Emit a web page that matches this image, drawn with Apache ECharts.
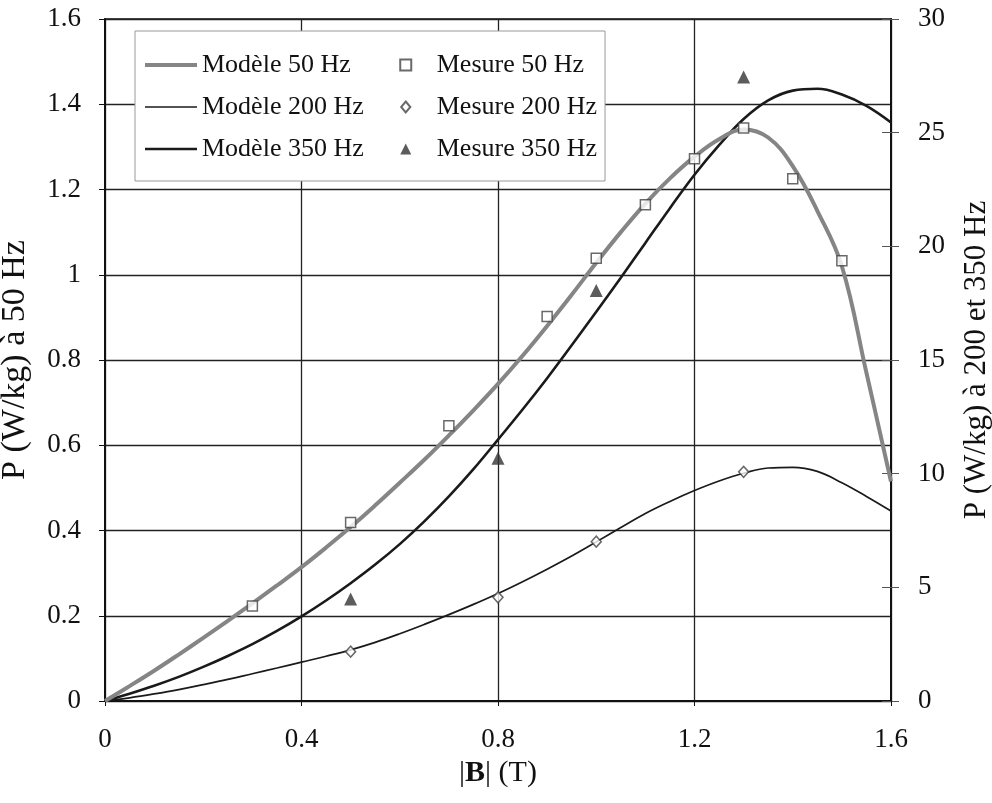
<!DOCTYPE html>
<html>
<head>
<meta charset="utf-8">
<script src="https://cdn.jsdelivr.net/npm/echarts@6/dist/echarts.min.js"></script>
<style>
html,body{margin:0;padding:0;background:#fff;}
#c{width:992px;height:803px;}
</style>
</head>
<body>
<div id="c"></div>
<script>
// ---- data ----
const xModel   = [0, 0.05, 0.1, 0.15, 0.2, 0.25, 0.3, 0.35, 0.4, 0.45, 0.5, 0.55, 0.6, 0.65, 0.7, 0.75, 0.8,
                  0.85, 0.9, 0.95, 1.0, 1.05, 1.1, 1.15, 1.2, 1.25, 1.3, 1.35, 1.4, 1.45, 1.5, 1.55, 1.6];
const model50  = [0, 0.035, 0.071, 0.109, 0.148, 0.188, 0.229, 0.271, 0.314, 0.36, 0.408, 0.459, 0.512, 0.566, 0.623, 0.682, 0.744,
                  0.81, 0.88, 0.953, 1.028, 1.1, 1.167, 1.226, 1.277, 1.318, 1.341, 1.322, 1.255, 1.15, 1.02, 0.77, 0.515];
const model200 = [0, 0.14, 0.31, 0.5, 0.72, 0.95, 1.2, 1.45, 1.71, 1.97, 2.25, 2.58, 2.96, 3.37, 3.8, 4.25, 4.73,
                  5.25, 5.8, 6.38, 7.0, 7.63, 8.25, 8.78, 9.26, 9.68, 10.02, 10.25, 10.28, 10.1, 9.6, 9.0, 8.36];
const model350 = [0, 0.32, 0.67, 1.06, 1.5, 1.98, 2.5, 3.08, 3.72, 4.42, 5.18, 6.0, 6.9, 7.9, 9.0, 10.2, 11.5,
                  12.82, 14.2, 15.65, 17.12, 18.62, 20.15, 21.68, 23.15, 24.45, 25.6, 26.42, 26.85, 26.93, 26.68, 26.18, 25.45];

const xMes50  = [0.3, 0.5, 0.7, 0.9, 1.0, 1.1, 1.2, 1.3, 1.4, 1.5];
const mes50   = [0.223, 0.419, 0.646, 0.902, 1.039, 1.164, 1.272, 1.344, 1.225, 1.033];
const xMes200 = [0.5, 0.8, 1.0, 1.3];
const mes200  = [2.17, 4.56, 7.01, 10.08];
const xMes350 = [0.5, 0.8, 1.0, 1.3];
const mes350  = [4.49, 10.68, 18.06, 27.45];

const legendNames = ['Modèle 50 Hz', 'Modèle 200 Hz', 'Modèle 350 Hz', 'Mesure 50 Hz', 'Mesure 200 Hz', 'Mesure 350 Hz'];
const xAxisName = '|{b|B}| (T)';
const yLeftName = 'P (W/kg) à 50 Hz';
const yRightName = 'P (W/kg) à 200 et 350 Hz';

const zip = (xs, ys) => xs.map((x, i) => [x, ys[i]]);
const FONT = 'Liberation Serif';

const chart = echarts.init(document.getElementById('c'), null, {renderer: 'canvas'});
const fmt1 = v => String(Math.round(v * 10) / 10);

const legendIcons = {
  'Modèle 50 Hz':  {icon: 'path://M0,0L52,0L52,4L0,4Z', itemStyle: {color: '#858585', borderWidth: 0}},
  'Modèle 200 Hz': {icon: 'path://M0,0L52,0L52,1.7L0,1.7Z', itemStyle: {color: '#1a1a1a', borderWidth: 0}},
  'Modèle 350 Hz': {icon: 'path://M0,0L52,0L52,2.6L0,2.6Z', itemStyle: {color: '#1a1a1a', borderWidth: 0}},
  'Mesure 50 Hz':  {icon: 'path://M0,0L10,0L10,10L0,10Z'},
  'Mesure 200 Hz': {icon: 'path://M5,0L10,6L5,12L0,6Z'},
  'Mesure 350 Hz': {icon: 'path://M5,0L10,10L0,10Z'}
};

const gridBox = {left: 105, right: 101, top: 19, bottom: 102, outerBoundsMode: 'none', containLabel: false};

chart.setOption({
  backgroundColor: '#fff',
  animation: false,
  textStyle: {fontFamily: FONT, color: '#111'},
  grid: [
    Object.assign({show: true, borderColor: '#111', borderWidth: 1.5, backgroundColor: 'transparent'}, gridBox),
    Object.assign({show: false}, gridBox)
  ],
  legend: {
    data: legendNames.map(n => Object.assign({name: n}, legendIcons[n])),
    orient: 'vertical',
    left: 135, top: 31,
    height: 112,
    padding: [21, 8, 19, 10],
    itemGap: 16,
    itemWidth: 52, itemHeight: 11,
    symbolKeepAspect: true,
    backgroundColor: '#fff',
    borderColor: '#999', borderWidth: 1,
    textStyle: {fontFamily: FONT, fontSize: 26, color: '#111'},
    z: 10
  },
  xAxis: [
    {
      type: 'value', min: 0, max: 1.6, interval: 0.4, gridIndex: 0,
      name: xAxisName, nameLocation: 'middle', nameGap: 56,
      nameTextStyle: {fontFamily: FONT, fontSize: 30, color: '#111', rich: {b: {fontFamily: FONT, fontSize: 30, fontWeight: 'bold', color: '#111'}}},
      axisLine: {onZero: false, lineStyle: {color: '#111', width: 2}},
      axisTick: {show: true, length: 5, lineStyle: {color: '#111'}},
      axisLabel: {fontFamily: FONT, fontSize: 27, color: '#111', margin: 25, formatter: fmt1},
      splitLine: {show: true, lineStyle: {color: '#222', width: 1.3}}
    },
    {
      type: 'value', min: 0, max: 1.6, interval: 0.4, gridIndex: 1, show: false,
      axisLine: {onZero: false}
    }
  ],
  yAxis: [
    {
      type: 'value', min: 0, max: 1.6, interval: 0.2, position: 'left', gridIndex: 0,
      name: yLeftName, nameLocation: 'middle', nameGap: 73, nameRotate: 90,
      nameTextStyle: {fontFamily: FONT, fontSize: 34, color: '#111'},
      axisLine: {show: true, onZero: false, lineStyle: {color: '#111', width: 2}},
      axisTick: {show: true, length: 6, lineStyle: {color: '#111'}},
      axisLabel: {fontFamily: FONT, fontSize: 27, color: '#111', margin: 24, formatter: fmt1},
      splitLine: {show: true, lineStyle: {color: '#222', width: 1.3}}
    },
    {
      type: 'value', min: 0, max: 30, interval: 5, position: 'right', gridIndex: 0,
      name: yRightName, nameLocation: 'middle', nameGap: 70, nameRotate: 90,
      nameTextStyle: {fontFamily: FONT, fontSize: 31, color: '#111'},
      axisLine: {show: true, onZero: false, lineStyle: {color: '#111', width: 2}},
      axisTick: {show: true, length: 8, lineStyle: {color: '#555'}},
      axisLabel: {fontFamily: FONT, fontSize: 27, color: '#111', margin: 27},
      splitLine: {show: false}
    },
    {
      type: 'value', min: 0, max: 30, interval: 5, position: 'right', gridIndex: 1,
      axisLine: {show: true, onZero: false, lineStyle: {color: 'rgba(0,0,0,0)', width: 0}},
      axisTick: {show: true, inside: true, length: 9, lineStyle: {color: '#555'}},
      axisLabel: {show: false},
      splitLine: {show: false}
    }
  ],
  series: [
    {
      name: 'Modèle 200 Hz', type: 'line', yAxisIndex: 1, symbol: 'none', smooth: 0.4,
      lineStyle: {color: '#1a1a1a', width: 1.7}, itemStyle: {color: '#1a1a1a'},
      data: zip(xModel, model200), z: 3
    },
    {
      name: 'Modèle 350 Hz', type: 'line', yAxisIndex: 1, symbol: 'none', smooth: 0.4,
      lineStyle: {color: '#1a1a1a', width: 2.6}, itemStyle: {color: '#1a1a1a'},
      data: zip(xModel, model350), z: 3
    },
    {
      name: 'Modèle 50 Hz', type: 'line', yAxisIndex: 0, symbol: 'none', smooth: 0.4,
      lineStyle: {color: '#858585', width: 4}, itemStyle: {color: '#858585'},
      data: zip(xModel, model50), z: 4
    },
    {
      name: 'Mesure 50 Hz', type: 'scatter', yAxisIndex: 0, symbol: 'rect', symbolSize: 10,
      itemStyle: {color: '#fff', borderColor: '#444', borderWidth: 1.5},
      data: zip(xMes50, mes50), z: 5
    },
    {
      name: 'Mesure 200 Hz', type: 'scatter', yAxisIndex: 1, symbol: 'diamond', symbolSize: [10, 11],
      itemStyle: {color: '#fff', borderColor: '#444', borderWidth: 1.5},
      data: zip(xMes200, mes200), z: 5
    },
    {
      name: 'Mesure 350 Hz', type: 'scatter', yAxisIndex: 1, symbol: 'triangle', symbolSize: 13,
      itemStyle: {color: '#333'},
      data: zip(xMes350, mes350), z: 5
    }
  ]
});
</script>
</body>
</html>
